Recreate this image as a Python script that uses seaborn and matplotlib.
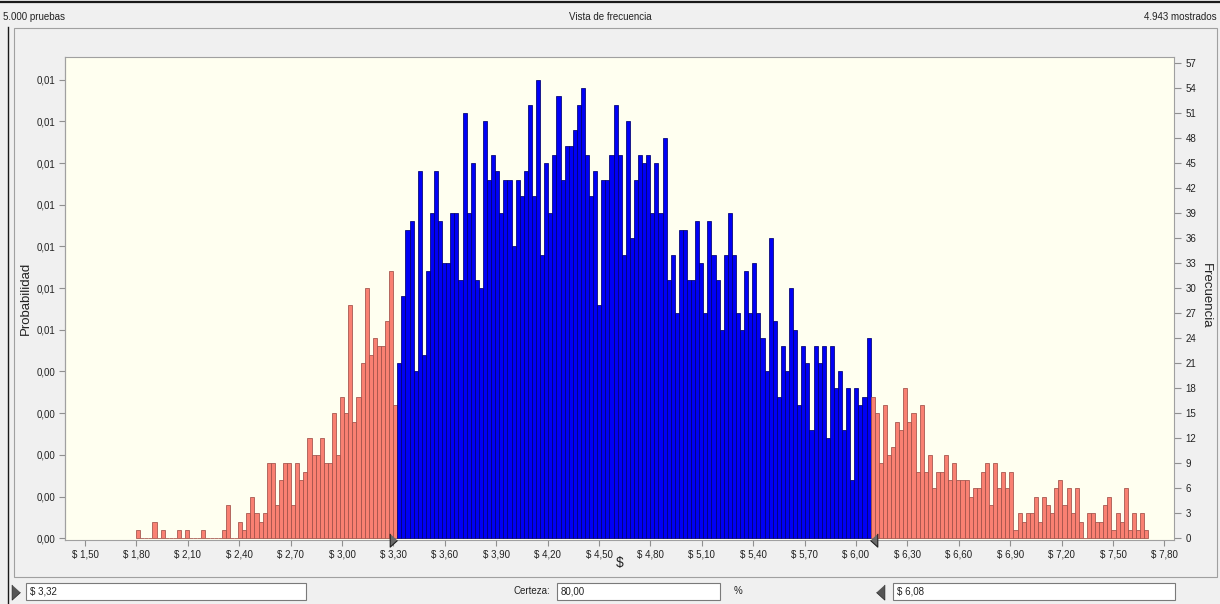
import numpy as np
import matplotlib
matplotlib.use("Agg")
import matplotlib.pyplot as plt
import seaborn as sns
from matplotlib.patches import Rectangle
from matplotlib.lines import Line2D
from matplotlib.ticker import FixedLocator, FuncFormatter

# ---- data ----
bin_start = 1.798      # left edge of the first bin ($)
bin_width = 0.02382    # width of one bin ($)
counts = [
    1, 0, 0, 0, 2, 0, 1, 0, 0, 0, 1, 0, 1, 0, 0, 0, 1, 0, 0, 0, 0, 1, 4, 0, 0,
    2, 1, 3, 5, 3, 2, 3, 9, 9, 4, 7, 9, 9, 4, 9, 7, 8, 12, 10, 10, 12, 9, 9, 15, 10,
    17, 15, 28, 14, 17, 21, 30, 22, 24, 23, 23, 26, 32, 16,
    21, 29, 37, 38, 20, 44, 22, 32, 39, 44, 38, 33,
    33, 39, 39, 31, 51, 39, 45, 31, 30, 50, 43, 46, 44, 39, 43, 43, 35, 43, 41, 44, 52, 41, 55, 34, 45, 39,
    46, 53, 43, 47, 47, 49, 52, 54, 46, 41, 44, 28, 43, 43, 46, 52, 46, 34, 50, 36, 43, 46, 45, 46, 39, 45,
    39, 48, 31, 34, 27, 37, 37, 31, 31, 38, 33, 27, 38, 34, 31, 25, 34, 39, 34, 27, 25, 32, 27, 33, 27,
    24, 20, 36, 26, 17, 23, 20, 30, 25, 16, 23, 21, 13, 23, 21, 23, 12, 23, 18, 20, 13, 18, 7, 18, 16, 17, 24,
    17, 15, 9, 16, 10, 11, 14, 13, 18, 14, 15, 8, 16, 8, 10, 6, 8, 8, 10, 7, 9, 7, 7, 7, 5,
    6, 6, 8, 9, 4, 9, 6, 8, 6, 8, 1, 3, 2, 3, 3, 5, 2, 5, 4, 3, 6, 7, 4, 6, 3, 6,
    2, 0, 3, 3, 2, 2, 4, 5, 1, 3, 2, 6, 1, 3, 1, 3, 1,
]
trials = 5000
shown = 4943
certainty_low = 3.32
certainty_high = 6.08
certainty_pct = 80.00
x_ticks = [1.50, 1.80, 2.10, 2.40, 2.70, 3.00, 3.30, 3.60, 3.90, 4.20, 4.50,
           4.80, 5.10, 5.40, 5.70, 6.00, 6.30, 6.60, 6.90, 7.20, 7.50, 7.80]
freq_ticks = [0, 3, 6, 9, 12, 15, 18, 21, 24, 27, 30, 33, 36, 39, 42, 45, 48, 51, 54, 57]
prob_ticks = [0.000, 0.001, 0.002, 0.003, 0.004, 0.005, 0.006, 0.007, 0.008, 0.009, 0.010, 0.011]

W, H = 1220, 604
plt.rcParams['font.family'] = ['Liberation Sans', 'DejaVu Sans']
bg = '#f0f0f0'
txt_col = '#222222'
fig = plt.figure(figsize=(W / 100, H / 100), dpi=100, facecolor=bg)


def fx(px):
    return px / W


def fy(py):
    return 1 - py / H


# window frame, panel and header strip (kept behind the axes)
fig.add_artist(Line2D([0, 1], [fy(1.5), fy(1.5)], color='#1a1a1a', lw=1.6))
fig.add_artist(Line2D([fx(7.5), fx(7.5)], [fy(27), 0], color='#1a1a1a', lw=1.0))
fig.add_artist(Rectangle((fx(14), fy(577)), fx(1217) - fx(14), fy(28) - fy(577),
                         transform=fig.transFigure, facecolor=bg, edgecolor='#a0a0a0',
                         lw=0.8, zorder=-10))
fig.text(fx(3), fy(17), f"{trials:,}".replace(',', '.') + " pruebas", fontsize=7,
         va='center', ha='left', color=txt_col)
fig.text(fx(610), fy(17), "Vista de frecuencia", fontsize=7, va='center', ha='center', color=txt_col)
fig.text(fx(1217), fy(17), f"{shown:,}".replace(',', '.') + " mostrados", fontsize=7,
         va='center', ha='right', color=txt_col)

ax = fig.add_axes([fx(65), fy(539.5), fx(1174.3) - fx(65), fy(57) - fy(539.5)])
ax.set_facecolor('#fffff0')

edges = bin_start + bin_width * np.arange(len(counts) + 1)
centers = edges[:-1] + bin_width / 2
sns.histplot(x=centers, weights=counts, bins=list(edges), ax=ax, stat='count',
             element='bars', fill=True, linewidth=0.55, shrink=1)

# colour the tails red and the certainty range blue
for patch, c in zip(ax.patches, centers):
    if certainty_low <= c <= certainty_high:
        patch.set_facecolor('#0000f5')
        patch.set_edgecolor('#000070')
    else:
        patch.set_facecolor('#f98072')
        patch.set_edgecolor('#a05048')
    patch.set_alpha(1)

ax.set_xlim(1.383, 7.858)
ax.set_ylim(-0.15, 57.72)

# x axis
ax.xaxis.set_major_locator(FixedLocator(x_ticks))
ax.xaxis.set_major_formatter(FuncFormatter(lambda v, p: f"$ {v:.2f}".replace('.', ',')))
ax.set_xlabel('')
ax.tick_params(axis='x', labelsize=7, length=4, color='#909090', pad=3, labelcolor=txt_col)

# right axis: frequency
ax.yaxis.tick_right()
ax.yaxis.set_major_locator(FixedLocator(freq_ticks))
ax.tick_params(axis='y', labelsize=7, length=5, color='#909090', pad=3, labelcolor=txt_col)
ax.set_ylabel('')

# left axis: probability
sec = ax.secondary_yaxis('left', functions=(lambda c: c / trials, lambda p: p * trials))
sec.yaxis.set_major_locator(FixedLocator(prob_ticks))
sec.yaxis.set_major_formatter(FuncFormatter(lambda v, p: f"{v:.2f}".replace('.', ',')))
sec.tick_params(axis='y', labelsize=7, length=4, color='#909090', pad=3, labelcolor=txt_col)
sec.spines['left'].set_color('#a0a0a0')

for s in ax.spines.values():
    s.set_color('#a0a0a0')
    s.set_linewidth(0.8)

fig.text(fx(26), fy(298), "Probabilidad", fontsize=9.5, rotation=90, va='center', ha='center', color=txt_col)
fig.text(fx(1206), fy(296), "Frecuencia", fontsize=9.5, rotation=270, va='center', ha='center', color=txt_col)
fig.text(fx(620), fy(563), "$", fontsize=10, va='center', ha='center', color=txt_col)

# certainty grabbers on the axis (tip of the triangle sits on the value)
tri_right = [(0, 0), (-1.1, -1), (-1.1, 1)]
tri_left = [(0, 0), (1.1, -1), (1.1, 1)]
ax.plot([certainty_low], [0], marker=tri_right, ms=10.5, color='#6a6a6a', mec='#202020',
        mew=0.8, clip_on=False, transform=ax.get_xaxis_transform(), zorder=5)
ax.plot([certainty_high], [0], marker=tri_left, ms=10.5, color='#6a6a6a', mec='#202020',
        mew=0.8, clip_on=False, transform=ax.get_xaxis_transform(), zorder=5)

# bottom control row
for x0, x1, txt in [(26, 306, f"$ {certainty_low:.2f}".replace('.', ',')),
                    (557, 720, f"{certainty_pct:.2f}".replace('.', ',')),
                    (893, 1175, f"$ {certainty_high:.2f}".replace('.', ','))]:
    fig.add_artist(Rectangle((fx(x0), fy(600)), fx(x1) - fx(x0), fy(583) - fy(600),
                             transform=fig.transFigure, facecolor='white', edgecolor='#7a7a7a', lw=0.8))
    fig.text(fx(x0 + 4), fy(591.5), txt, fontsize=7, va='center', ha='left', color=txt_col)
fig.text(fx(550), fy(591.5), "Certeza:", fontsize=7, va='center', ha='right', color=txt_col)
fig.text(fx(738), fy(591.5), "%", fontsize=7, va='center', ha='center', color=txt_col)
fig.add_artist(Line2D([fx(20)], [fy(591.5)], marker=tri_right, ms=12, color='#555555',
                      mec='#303030', mew=0.6, transform=fig.transFigure))
fig.add_artist(Line2D([fx(876)], [fy(591.5)], marker=tri_left, ms=12, color='#555555',
                      mec='#303030', mew=0.6, transform=fig.transFigure))

fig.savefig('out.png', dpi=100, facecolor=bg)
